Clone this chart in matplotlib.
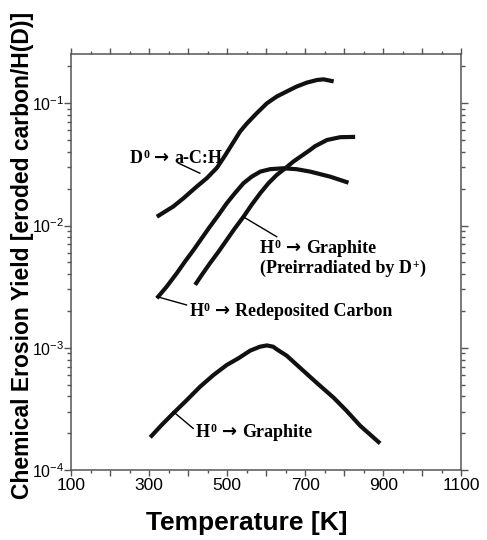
import matplotlib
matplotlib.use("Agg")
import matplotlib.pyplot as plt
from matplotlib.ticker import FixedLocator, LogLocator, NullFormatter, FixedFormatter
from matplotlib.transforms import IdentityTransform

# ---- data ----
t_dach = [320, 341, 362, 388, 422, 448, 474, 495, 516, 533, 550, 576, 602, 627, 653, 678, 704, 730, 747, 773]
y_dach = [0.0118, 0.0130, 0.0143, 0.0167, 0.0208, 0.0244, 0.0297, 0.0375, 0.048, 0.0586,
          0.0680, 0.083, 0.100, 0.1135, 0.125, 0.137, 0.1475, 0.155, 0.157, 0.151]

t_redep = [320, 345, 371, 392, 414, 435, 456, 478, 499, 520, 542, 563, 585, 610, 644, 678, 713, 764, 811]
y_redep = [0.00254, 0.00316, 0.00407, 0.00507, 0.00631, 0.00787, 0.0098, 0.0122, 0.0152, 0.0184,
           0.0222, 0.0251, 0.0276, 0.0289, 0.0294, 0.0289, 0.0276, 0.0251, 0.0224]

t_preirr = [418, 435, 456, 478, 499, 520, 542, 563, 585, 606, 627, 649, 670, 713, 725, 756, 790, 828]
y_preirr = [0.00327, 0.00394, 0.00491, 0.00611, 0.00762, 0.0095, 0.0118, 0.0148, 0.0184, 0.0222,
            0.0259, 0.0294, 0.0334, 0.0416, 0.0445, 0.0501, 0.0528, 0.0531]

t_graph = [303, 332, 362, 397, 431, 465, 499, 529, 559, 584, 602, 618, 627, 653, 687, 730, 773, 806, 841, 892]
y_graph = [1.85e-4, 2.33e-4, 2.91e-4, 3.74e-4, 4.81e-4, 5.98e-4, 7.23e-4, 8.2e-4, 9.47e-4, 1.02e-3,
           1.045e-3, 1.02e-3, 9.72e-4, 8.6e-4, 6.85e-4, 5.15e-4, 3.9e-4, 3.05e-4, 2.3e-4, 1.65e-4]

x_major = [100, 200, 300, 400, 500, 600, 700, 800, 900, 1000, 1100]
x_labels = ["100", "", "300", "", "500", "", "700", "", "900", "", "1100"]
y_major = [1e-4, 1e-3, 1e-2, 1e-1]
y_labels = [r"$\mathsf{10^{-4}}$", r"$\mathsf{10^{-3}}$", r"$\mathsf{10^{-2}}$", r"$\mathsf{10^{-1}}$"]

plt.rcParams["mathtext.fontset"] = "custom"
plt.rcParams["mathtext.rm"] = "Liberation Sans"
plt.rcParams["mathtext.sf"] = "Liberation Sans"
plt.rcParams["mathtext.it"] = "Liberation Sans"
plt.rcParams["font.family"] = ["Liberation Sans", "DejaVu Sans"]

fig = plt.figure(figsize=(4.87, 5.40), dpi=100)
ax = fig.add_axes([71/487, 1-470/540, (461.3-71)/487, (470-54)/540])

lc = "#111111"
for t, y in [(t_dach, y_dach), (t_redep, y_redep), (t_preirr, y_preirr), (t_graph, y_graph)]:
    ax.plot(t, y, color=lc, lw=3.0, solid_capstyle="butt", solid_joinstyle="round")

ax.set_yscale("log")
ax.set_xlim(100, 1100)
ax.set_ylim(1e-4, 0.253)

ax.xaxis.set_major_locator(FixedLocator(x_major))
ax.xaxis.set_major_formatter(FixedFormatter(x_labels))
ax.xaxis.set_minor_locator(FixedLocator([150 + 100*i for i in range(10)]))
ax.yaxis.set_major_locator(FixedLocator(y_major))
ax.yaxis.set_major_formatter(FixedFormatter(y_labels))
ax.yaxis.set_minor_locator(LogLocator(base=10, subs=range(2, 10)))
ax.yaxis.set_minor_formatter(NullFormatter())

spc = "#555555"
for s in ax.spines.values():
    s.set_color(spc)
    s.set_linewidth(1.1)

ax.tick_params(which="both", direction="out", top=True, right=True, color=spc, width=1.0)
ax.tick_params(axis="x", which="major", length=4.5, labelsize=12.5, pad=1)
ax.tick_params(axis="x", which="minor", length=2.3)
ax.tick_params(axis="y", which="major", length=5, labelsize=11.5, pad=0)
ax.tick_params(axis="y", which="minor", length=3)

fig.text(23/487, 1-255/540, "Chemical Erosion Yield [eroded carbon/H(D)]",
         rotation=90, ha="center", va="center", fontsize=16.5, fontweight="bold")
fig.text(247/487, 1-523/540, "Temperature [K]", ha="center", va="center",
         fontsize=19, fontweight="bold")

# ---- annotations (rich text: base, superscript, arrow) ----
renderer = fig.canvas.get_renderer()
SERIF = ["Liberation Serif", "DejaVu Serif"]
ARROW = ["DejaVu Sans"]
FS = 13


def rich(xd, yd, parts):
    x, y0 = ax.transData.transform((xd, yd))
    for s, size, fam, dy, gap in parts:
        x += gap
        t = fig.text(x, y0 + dy, s, transform=IdentityTransform(), fontsize=size,
                     family=fam, fontweight="bold", ha="left", va="baseline", color="black")
        x = t.get_window_extent(renderer).x1


def label(xd, yd, sym, rest):
    rich(xd, yd, [(sym, FS, SERIF, 0, 0),
                  ("0", 8.5, SERIF, 5, 0.5),
                  ("\u2192", 13, ARROW, 0, 5),
                  (rest, FS, SERIF, 0, 5)])


label(251, 0.0325, "D", "a-C:H")
ax.plot([375, 430], [0.0324, 0.0268], color="black", lw=1.0)

label(584, 0.00597, "H", "Graphite")
rich(584, 0.00409, [("(Preirradiated by D", FS, SERIF, 0, 0),
                    ("+", 8.5, SERIF, 5, 0.5),
                    (")", FS, SERIF, 0, 0.5)])
ax.plot([541, 627], [0.0118, 0.0081], color="black", lw=1.0)

label(403, 0.00183, "H", "Redeposited Carbon")
ax.plot([320, 396], [0.00262, 0.00224], color="black", lw=1.0)

label(420, 1.87e-4, "H", "Graphite")
ax.plot([362, 413], [3.0e-4, 2.19e-4], color="black", lw=1.0)

fig.savefig("out.png", dpi=100)
